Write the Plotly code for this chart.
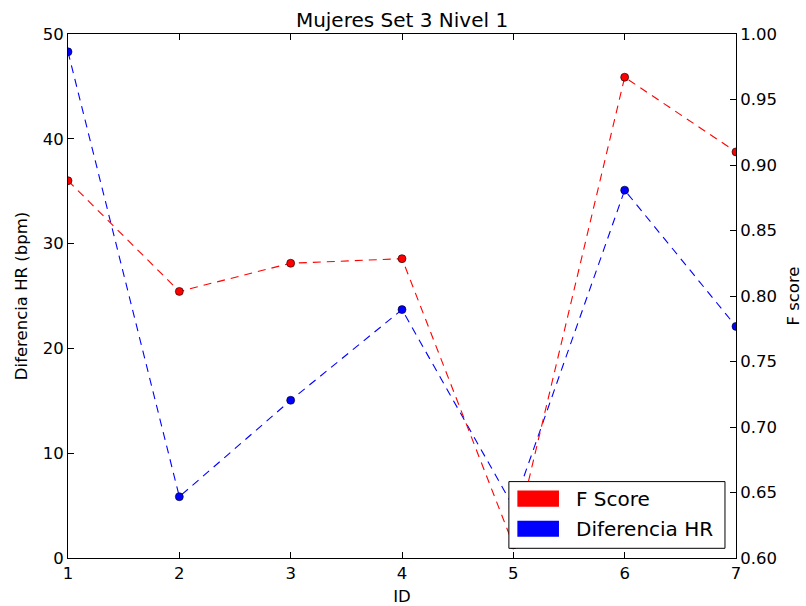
import plotly.graph_objects as go

ids = [1, 2, 3, 4, 5, 6, 7]
f_score = [0.888, 0.8035, 0.825, 0.8285, 0.61, 0.967, 0.910]
dif_hr = [48.3, 5.85, 15.05, 23.7, 4.9, 35.1, 22.1]
left_ticks = [0, 10, 20, 30, 40, 50]
right_ticks = [0.60, 0.65, 0.70, 0.75, 0.80, 0.85, 0.90, 0.95, 1.00]

FONT = "DejaVu Sans"
RED = "#ff0000"
BLUE = "#0000ff"

fig = go.Figure()
fig.add_trace(go.Scatter(
    x=ids, y=dif_hr, mode="lines+markers", name="Diferencia HR",
    line=dict(color=BLUE, width=1.1, dash="8px,6px"),
    marker=dict(color=BLUE, size=8, line=dict(color="black", width=0.6)),
    yaxis="y", showlegend=False,
))
fig.add_trace(go.Scatter(
    x=ids, y=f_score, mode="lines+markers", name="F Score",
    line=dict(color=RED, width=1.1, dash="8px,6px"),
    marker=dict(color=RED, size=8, line=dict(color="black", width=0.6)),
    yaxis="y2", showlegend=False,
))

axis_common = dict(
    showgrid=False, zeroline=False, showline=True, linecolor="black",
    linewidth=1, ticks="inside", ticklen=6, tickcolor="black",
    tickfont=dict(family=FONT, size=16.5, color="black"),
)

fig.update_layout(
    width=806, height=606,
    margin=dict(l=68, r=70, t=34, b=48, autoexpand=False),
    paper_bgcolor="white", plot_bgcolor="white",
    font=dict(family=FONT, color="black"),
    title=dict(text="Mujeres Set 3 Nivel 1", x=0.5, xref="paper", xanchor="center",
               y=(606 - 20) / 606, yref="container", yanchor="middle",
               font=dict(family=FONT, size=20, color="black")),
    xaxis=dict(range=[1, 7], tickvals=ids, mirror="ticks",
               title=dict(text="ID", font=dict(family=FONT, size=16.5), standoff=10),
               **axis_common),
    yaxis=dict(range=[0, 50], tickvals=left_ticks,
               title=dict(text="Diferencia HR (bpm)", font=dict(family=FONT, size=16.5), standoff=10),
               **axis_common),
    yaxis2=dict(range=[0.6, 1.0], tickvals=right_ticks, tickformat=".2f",
                overlaying="y", side="right", anchor="x",
                title=dict(text="F score", font=dict(family=FONT, size=16.5), standoff=11),
                **axis_common),
    showlegend=False,
)

# Legend box (lower right), drawn in paper coordinates
fig.add_shape(type="rect", xref="paper", yref="paper", x0=0.660, x1=0.9835, y0=0.0185, y1=0.1458,
              line=dict(color="black", width=1), fillcolor="white", layer="above")
legend_items = [("F Score", RED, 0.098, 0.1286), ("Diferencia HR", BLUE, 0.0407, 0.0713)]
for label, col, y0, y1 in legend_items:
    fig.add_shape(type="rect", xref="paper", yref="paper", x0=0.6727, x1=0.7350, y0=y0, y1=y1,
                  line=dict(color=col, width=0), fillcolor=col, layer="above")
    fig.add_annotation(text=label, xref="paper", yref="paper", x=0.758, y=(y0 + y1) / 2,
                       xanchor="left", yanchor="middle", showarrow=False,
                       font=dict(family=FONT, size=20, color="black"))

fig.write_html("out.html")
